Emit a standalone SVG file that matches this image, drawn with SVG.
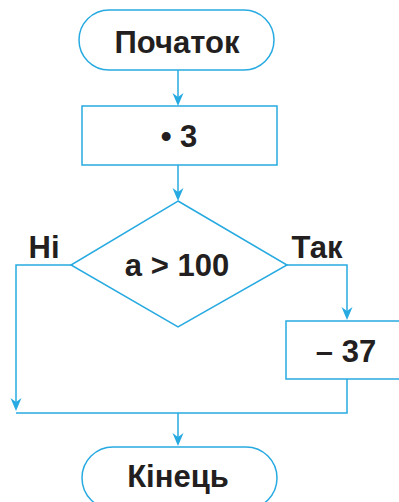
<svg xmlns="http://www.w3.org/2000/svg" width="399" height="502" viewBox="0 0 399 502">
<style>
.s{fill:#fff;stroke:#27aae1;stroke-width:1.5}
.c{fill:none;stroke:#27aae1;stroke-width:1.5}
.t{font-family:"Liberation Sans",Arial,sans-serif;font-weight:bold;font-size:31px;fill:#231f20;text-anchor:middle}
.a{fill:#27aae1}
</style>
<defs>
<path id="ah" d="M0,0 L-5.5,-13 L0,-9 L5.5,-13 Z"/>
</defs>
<g id="connectors">
<path class="c" d="M178,70 V103"/>
<use href="#ah" class="a" x="178" y="106"/>
<path class="c" d="M178,165 V198"/>
<use href="#ah" class="a" x="178" y="201"/>
<path class="c" d="M71,265 H16 V408"/>
<use href="#ah" class="a" x="16" y="411"/>
<path class="c" d="M287,265 H347 V316"/>
<use href="#ah" class="a" x="347" y="320"/>
<path class="c" d="M347,379 V413 H16"/>
<path class="c" d="M178,413 V442"/>
<use href="#ah" class="a" x="178" y="446"/>
</g>
<g id="start">
<rect class="s" x="79" y="10" width="195" height="60" rx="30"/>
<text class="t" x="177" y="53">Початок</text>
</g>
<g id="step3">
<rect class="s" x="82" y="106" width="195" height="59"/>
<text class="t" x="179" y="147">• 3</text>
</g>
<g id="decision">
<polygon class="s" points="178,201 287,265 178,327 71,265"/>
<text class="t" x="177" y="276">a &gt; 100</text>
</g>
<g id="label-no"><text class="t" x="44" y="258">Ні</text></g>
<g id="label-yes"><text class="t" x="317" y="258">Так</text></g>
<g id="step37">
<rect class="s" x="286" y="321" width="124" height="58"/>
<text class="t" x="346" y="362">– 37</text>
</g>
<g id="end">
<rect class="s" x="82" y="447" width="195" height="62" rx="31"/>
<text class="t" x="178" y="487">Кінець</text>
</g>
</svg>
